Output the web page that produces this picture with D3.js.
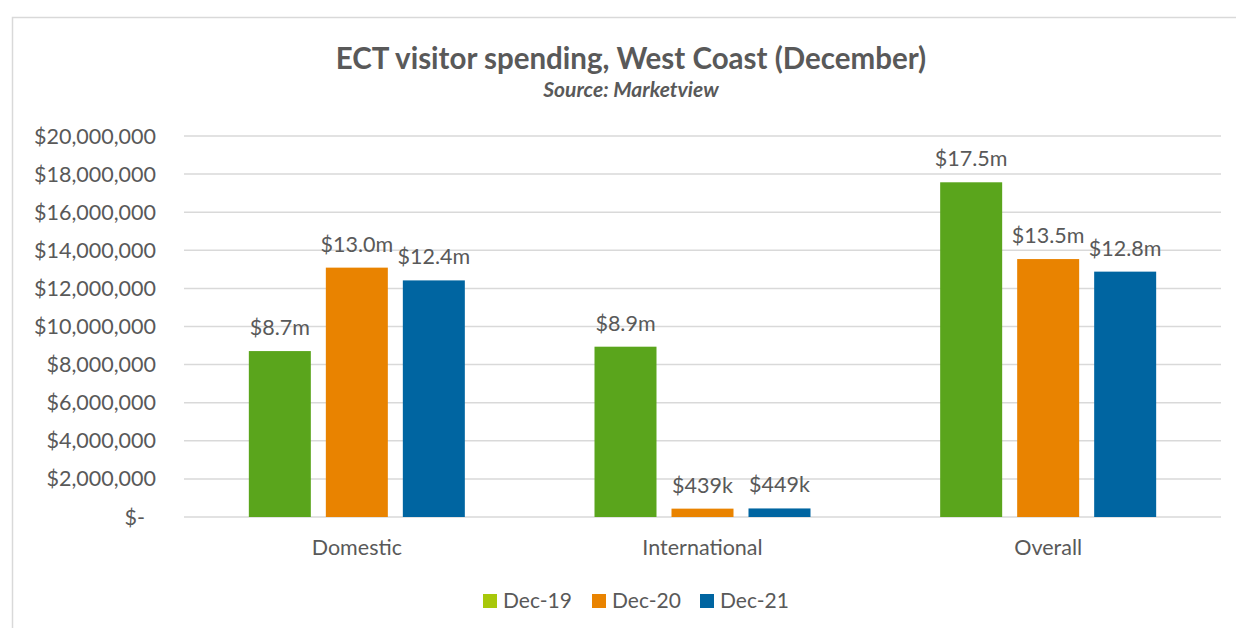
<!DOCTYPE html>
<html>
<head>
<meta charset="utf-8">
<script src="https://cdn.jsdelivr.net/npm/d3@7"></script>
<style>
  body { margin: 0; background: #fff; }
  svg { font-family: Lato, "Open Sans", sans-serif; }
</style>
</head>
<body>
<svg class="chart" width="1236" height="628"></svg>
<script>
const categories = ['Domestic', 'International', 'Overall'];
const series = ['Dec-19', 'Dec-20', 'Dec-21'];
const dec19 = [8710000, 8940000, 17570000];
const dec20 = [13090000, 439000, 13540000];
const dec21 = [12420000, 449000, 12880000];
const yTicks = [0, 2e6, 4e6, 6e6, 8e6, 10e6, 12e6, 14e6, 16e6, 18e6, 20e6];

const barColors = ['#5aa51c', '#e98300', '#0065a1'];
const legendColors = ['#a8c80a', '#e98300', '#0065a1'];
const textColor = '#595959';

const rows = categories.map((c, i) => ({
    cat: c,
    vals: [dec19[i], dec20[i], dec21[i]]
}));

const svg = d3.select('.chart');

// chart frame (runs off the right and bottom edge)
svg.append('path')
    .attr('d', 'M12.5,640 V17.5 H1250')
    .attr('fill', 'none')
    .attr('stroke', '#d9d9d9')
    .attr('stroke-width', 1.5);

const plotLeft = 184, plotRight = 1221, plotTop = 136, plotBottom = 517;

const x0 = d3.scaleBand()
    .domain(categories)
    .range([plotLeft, plotRight]);

const groupWidth = 216;
const x1 = d3.scaleBand()
    .domain(series)
    .range([0, groupWidth])
    .paddingInner(15 / 77);

const y = d3.scaleLinear()
    .domain([0, 20e6])
    .range([plotBottom, plotTop]);

// gridlines
svg.append('g')
    .selectAll('line')
    .data(yTicks)
    .enter().append('line')
    .attr('x1', plotLeft)
    .attr('x2', plotRight)
    .attr('y1', d => y(d))
    .attr('y2', d => y(d))
    .attr('stroke', '#d9d9d9')
    .attr('stroke-width', 1.5);

// y axis labels
const fmt = d3.format(',');
svg.append('g')
    .selectAll('text')
    .data(yTicks)
    .enter().append('text')
    .attr('x', d => d === 0 ? 145 : 156)
    .attr('y', d => y(d))
    .attr('dy', '0.35em')
    .attr('text-anchor', 'end')
    .attr('fill', textColor)
    .style('font-size', '21.5px')
    .text(d => d === 0 ? '$-' : '$' + fmt(d));

// bars
const groups = svg.append('g')
    .selectAll('g')
    .data(rows)
    .enter().append('g')
    .attr('transform', d => `translate(${x0(d.cat) + (x0.bandwidth() - groupWidth) / 2},0)`);

groups.selectAll('rect')
    .data(d => d.vals)
    .enter().append('rect')
    .attr('x', (d, i) => x1(series[i]))
    .attr('width', x1.bandwidth())
    .attr('y', d => y(d))
    .attr('height', d => y(0) - y(d))
    .attr('fill', (d, i) => barColors[i]);

function label(v) {
    if (v >= 1e6) return '$' + (Math.floor(v / 1e5) / 10).toFixed(1) + 'm';
    return '$' + Math.round(v / 1000) + 'k';
}

groups.selectAll('text')
    .data(d => d.vals)
    .enter().append('text')
    .attr('x', (d, i) => x1(series[i]) + x1.bandwidth() / 2)
    .attr('y', d => y(d) - 16)
    .attr('text-anchor', 'middle')
    .attr('fill', textColor)
    .style('font-size', '21.5px')
    .text(d => label(d));

// category labels
svg.append('g')
    .selectAll('text')
    .data(categories)
    .enter().append('text')
    .attr('x', d => x0(d) + x0.bandwidth() / 2)
    .attr('y', 555)
    .attr('text-anchor', 'middle')
    .attr('fill', textColor)
    .style('font-size', '21.5px')
    .text(d => d);

// title
svg.append('text')
    .attr('x', 631)
    .attr('y', 69)
    .attr('text-anchor', 'middle')
    .attr('fill', textColor)
    .style('font-size', '29.5px')
    .style('font-weight', 'bold')
    .text('ECT visitor spending, West Coast (December)');

svg.append('text')
    .attr('x', 631)
    .attr('y', 97)
    .attr('text-anchor', 'middle')
    .attr('fill', textColor)
    .style('font-size', '21px')
    .style('font-weight', 'bold')
    .style('font-style', 'italic')
    .text('Source: Marketview');

// legend
const legendX = [483, 592, 700];
const legend = svg.append('g')
    .selectAll('g')
    .data(series)
    .enter().append('g')
    .attr('transform', (d, i) => `translate(${legendX[i]},594)`);

legend.append('rect')
    .attr('width', 14)
    .attr('height', 14)
    .attr('fill', (d, i) => legendColors[i]);

legend.append('text')
    .attr('x', 20)
    .attr('y', 14)
    .attr('fill', textColor)
    .style('font-size', '21px')
    .text(d => d);
</script>
</body>
</html>
